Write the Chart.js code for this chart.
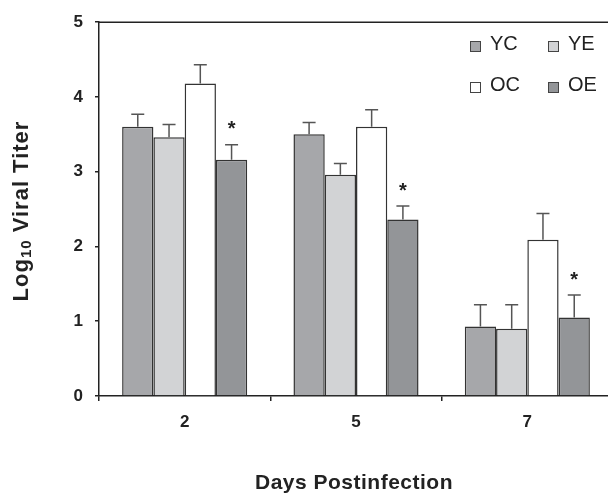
<!doctype html>
<html>
<head>
<meta charset="UTF-8">
<title>Viral titer</title>
<script src="https://cdn.jsdelivr.net/npm/chart.js@4.4.1/dist/chart.umd.min.js"></script>
<style>
  html, body { margin: 0; padding: 0; background: #fff; }
  #wrap { width: 608px; height: 494px; overflow: hidden; }
  canvas { display: block; }
</style>
</head>
<body>
<div id="wrap"><canvas id="canvas" width="620" height="494"></canvas></div>
<script>
// data
var days = ['2', '5', '7'];
var groups = ['YC', 'YE', 'OC', 'OE'];
var yc = [3.60, 3.50, 0.93];
var ye = [3.46, 2.96, 0.90];
var oc = [4.18, 3.60, 2.09];
var oe = [3.16, 2.36, 1.05];
var ycErr = [0.17, 0.16, 0.29];
var yeErr = [0.17, 0.15, 0.32];
var ocErr = [0.25, 0.23, 0.35];
var oeErr = [0.20, 0.18, 0.30];
var oeMarks = ['*', '*', '*'];
var yTicks = [0, 1, 2, 3, 4, 5];

var fills = ['#a6a7aa', '#d2d3d5', '#ffffff', '#939598'];
var ink = '#222';
var fam = '"Liberation Sans", Arial, sans-serif';

var values = [yc, ye, oc, oe];
var errors = [ycErr, yeErr, ocErr, oeErr];

var datasets = groups.map(function (g, k) {
  return {
    label: g,
    data: values[k],
    errs: errors[k],
    backgroundColor: fills[k],
    borderColor: '#333',
    borderWidth: 1.5,
    categoryPercentage: 0.73,
    barPercentage: 1
  };
});

var extras = {
  id: 'extras',
  afterDatasetsDraw: function (chart) {
    var ctx = chart.ctx;
    var ys = chart.scales.y;
    var area = chart.chartArea;
    ctx.save();
    // error bars (upper only)
    chart.data.datasets.forEach(function (ds, k) {
      var meta = chart.getDatasetMeta(k);
      meta.data.forEach(function (bar, i) {
        var top = ys.getPixelForValue(ds.data[i] + ds.errs[i]);
        ctx.strokeStyle = '#555';
        ctx.lineWidth = 1.5;
        ctx.beginPath();
        ctx.moveTo(bar.x, bar.y);
        ctx.lineTo(bar.x, top);
        ctx.moveTo(bar.x - 6.5, top);
        ctx.lineTo(bar.x + 6.5, top);
        ctx.stroke();
        if (k === 3 && oeMarks[i]) {
          ctx.fillStyle = ink;
          ctx.font = 'bold 20px ' + fam;
          ctx.textAlign = 'center';
          ctx.textBaseline = 'middle';
          ctx.fillText(oeMarks[i], bar.x, top - 15);
        }
      });
    });
    // top frame line
    ctx.strokeStyle = ink;
    ctx.lineWidth = 1.5;
    ctx.beginPath();
    ctx.moveTo(area.left, area.top);
    ctx.lineTo(chart.width, area.top);
    ctx.stroke();
    ctx.restore();
  },
  afterDraw: function (chart) {
    var ctx = chart.ctx;
    ctx.save();
    // legend 2x2
    var cols = [470, 548];
    var rows = [46.5, 87.5];
    chart.data.datasets.forEach(function (ds, k) {
      var bx = cols[k % 2];
      var cy = rows[Math.floor(k / 2)];
      ctx.fillStyle = ds.backgroundColor;
      ctx.fillRect(bx, cy - 5.5, 11, 11);
      ctx.strokeStyle = '#444';
      ctx.lineWidth = 1;
      ctx.strokeRect(bx + 0.5, cy - 5, 10, 10);
      ctx.fillStyle = ink;
      ctx.font = '20px ' + fam;
      ctx.textAlign = 'left';
      ctx.textBaseline = 'middle';
      ctx.fillText(ds.label, bx + 20, cy - 2);
    });

    // x title
    ctx.font = 'bold 21px ' + fam;
    ctx.letterSpacing = '0.5px';
    ctx.textAlign = 'center';
    ctx.textBaseline = 'middle';
    ctx.fillText('Days Postinfection', 354, 483);

    // y title with subscript
    ctx.translate(22, 211);
    ctx.rotate(-Math.PI / 2);
    ctx.textAlign = 'left';
    ctx.letterSpacing = '1px';
    var big = 'bold 22px ' + fam;
    var small = 'bold 15px ' + fam;
    ctx.font = big;
    var w1 = ctx.measureText('Log').width;
    var w3 = ctx.measureText(' Viral Titer').width;
    ctx.font = small;
    var w2 = ctx.measureText('10').width;
    var x0 = -(w1 + w2 + w3) / 2;
    ctx.font = big;
    ctx.fillText('Log', x0, 0);
    ctx.font = small;
    ctx.fillText('10', x0 + w1, 5);
    ctx.font = big;
    ctx.fillText(' Viral Titer', x0 + w1 + w2, 0);
    ctx.restore();
  }
};

var ctx = document.getElementById('canvas').getContext('2d');
window.myBar = new Chart(ctx, {
  type: 'bar',
  data: { labels: days, datasets: datasets },
  options: {
    responsive: false,
    animation: false,
    layout: { padding: { top: 21, right: 7, left: 0, bottom: 0 } },
    plugins: {
      legend: { display: false },
      tooltip: { enabled: false },
      title: { display: false }
    },
    scales: {
      x: {
        offset: true,
        grid: { display: true, offset: true, drawOnChartArea: false, drawTicks: true, tickLength: 5, color: ink, lineWidth: 1.5 },
        border: { display: true, color: ink, width: 1.5 },
        ticks: { color: ink, padding: 11, font: { family: fam, size: 17, weight: 'bold' } },
        afterFit: function (s) { s.height = 98; }
      },
      y: {
        min: 0,
        max: 5,
        afterBuildTicks: function (s) { s.ticks = yTicks.map(function (v) { return { value: v }; }); },
        grid: { display: true, drawOnChartArea: false, drawTicks: true, tickLength: 4, color: ink, lineWidth: 1.5 },
        border: { display: true, color: ink, width: 1.5 },
        ticks: { color: ink, padding: 12, font: { family: fam, size: 17, weight: 'bold' } },
        afterFit: function (s) { s.width = 99; }
      }
    }
  },
  plugins: [extras]
});
</script>
</body>
</html>
